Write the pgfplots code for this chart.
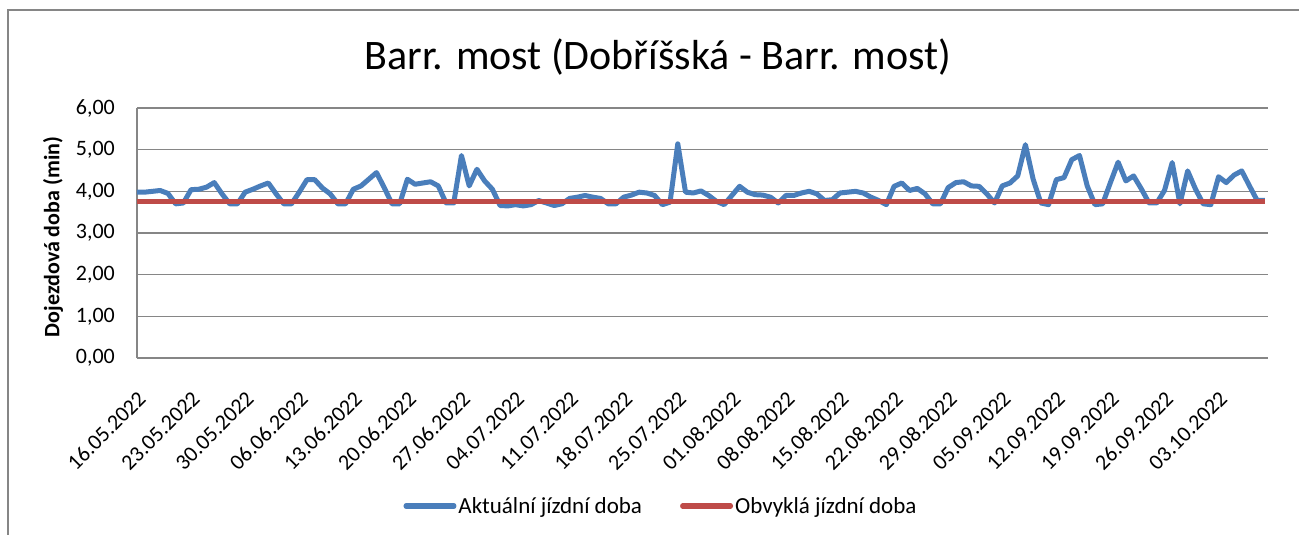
\documentclass[border=0pt]{standalone}
\usepackage{fontspec}
\setmainfont{Carlito}
\usepackage{pgfplots}
\pgfplotsset{compat=1.18}
\definecolor{actblue}{RGB}{74,126,187}
\definecolor{usred}{RGB}{190,75,72}
\definecolor{gridgray}{RGB}{134,134,134}
\definecolor{framegray}{RGB}{134,134,134}
\begin{document}
\begin{tikzpicture}
\path[use as bounding box] (0,0) rectangle (1299bp,535bp);
\draw[framegray, line width=2bp] (8bp,0bp) -- (8bp,525bp) -- (1300bp,525bp);
\begin{axis}[
  at={(137bp,177bp)}, anchor=south west,
  scale only axis, width=1131bp, height=250bp,
  xmin=0, xmax=146.4, ymin=0, ymax=6,
  axis x line*=bottom, axis y line*=left,
  axis line style={gridgray, line width=1.5bp, -},
  major tick length=0pt,
  ymajorgrids, grid style={gridgray, line width=1.5bp},
  ytick={0,1,2,3,4,5,6},
  yticklabels={{0,00},{1,00},{2,00},{3,00},{4,00},{5,00},{6,00}},
  xtick={0,7,...,140},
  xticklabels={16.05.2022,23.05.2022,30.05.2022,06.06.2022,13.06.2022,20.06.2022,27.06.2022,04.07.2022,11.07.2022,18.07.2022,25.07.2022,01.08.2022,08.08.2022,15.08.2022,22.08.2022,29.08.2022,05.09.2022,12.09.2022,19.09.2022,26.09.2022,03.10.2022},
  tick label style={font=\fontsize{22bp}{26bp}\selectfont, text=black},
  yticklabel style={inner sep=0pt, anchor=east, xshift=-22bp},
  xticklabel style={inner sep=0pt, xshift=5bp, yshift=-37bp, rotate=45, anchor=east},
  legend style={at={(axis description cs:0.4633,-0.592)}, anchor=center, draw=none, fill=none,
    font=\fontsize{23bp}{27bp}\selectfont, legend columns=2,
    /tikz/every even column/.append style={column sep=36bp},
    nodes={inner sep=2bp}},
  legend image code/.code={\draw[#1, line width=5bp, line cap=round] (0bp,0bp) -- (48bp,0bp);},
]
\addplot[actblue, line width=5bp, line join=round, mark=none] coordinates {
(0,3.98)(1,3.98)(2,4.00)(3,4.02)(4,3.95)(5,3.70)(6,3.72)
(7,4.04)(8,4.05)(9,4.10)(10,4.21)(11,3.94)(12,3.70)(13,3.70)
(14,3.98)(15,4.05)(16,4.13)(17,4.20)(18,3.94)(19,3.70)(20,3.70)
(21,3.98)(22,4.28)(23,4.28)(24,4.08)(25,3.94)(26,3.70)(27,3.70)
(28,4.05)(29,4.13)(30,4.29)(31,4.45)(32,4.09)(33,3.70)(34,3.70)
(35,4.29)(36,4.17)(37,4.20)(38,4.23)(39,4.13)(40,3.72)(41,3.72)
(42,4.86)(43,4.13)(44,4.53)(45,4.25)(46,4.05)(47,3.66)(48,3.65)
(49,3.68)(50,3.65)(51,3.68)(52,3.78)(53,3.72)(54,3.66)(55,3.70)
(56,3.83)(57,3.86)(58,3.90)(59,3.86)(60,3.83)(61,3.70)(62,3.70)
(63,3.86)(64,3.91)(65,3.98)(66,3.96)(67,3.90)(68,3.68)(69,3.74)
(70,5.14)(71,3.98)(72,3.96)(73,4.01)(74,3.90)(75,3.76)(76,3.68)
(77,3.90)(78,4.12)(79,3.98)(80,3.92)(81,3.91)(82,3.86)(83,3.72)
(84,3.90)(85,3.90)(86,3.96)(87,4.00)(88,3.94)(89,3.78)(90,3.80)
(91,3.96)(92,3.98)(93,4.00)(94,3.96)(95,3.86)(96,3.78)(97,3.68)
(98,4.12)(99,4.20)(100,4.02)(101,4.07)(102,3.94)(103,3.70)(104,3.70)
(105,4.09)(106,4.21)(107,4.23)(108,4.13)(109,4.12)(110,3.94)(111,3.72)
(112,4.13)(113,4.20)(114,4.37)(115,5.12)(116,4.29)(117,3.72)(118,3.68)
(119,4.28)(120,4.33)(121,4.76)(122,4.86)(123,4.13)(124,3.68)(125,3.70)
(126,4.21)(127,4.70)(128,4.25)(129,4.37)(130,4.06)(131,3.72)(132,3.72)
(133,4.02)(134,4.69)(135,3.70)(136,4.49)(137,4.06)(138,3.70)(139,3.68)
(140,4.35)(141,4.21)(142,4.39)(143,4.49)(144,4.13)(145,3.78)(146,3.78)
};
\addlegendentry{Aktuální jízdní doba}
\addplot[usred, line width=5bp, mark=none] coordinates {(0,3.75)(146,3.75)};
\addlegendentry{Obvyklá jízdní doba}
\end{axis}
\node[font=\fontsize{42bp}{50bp}\selectfont, anchor=base] at (658bp,465bp) {Barr. most (Dobříšská - Barr. most)};
\node[font=\fontsize{22bp}{26bp}\selectfont\bfseries, rotate=90, anchor=center] at (53bp,298bp) {Dojezdová doba (min)};
\end{tikzpicture}
\end{document}
